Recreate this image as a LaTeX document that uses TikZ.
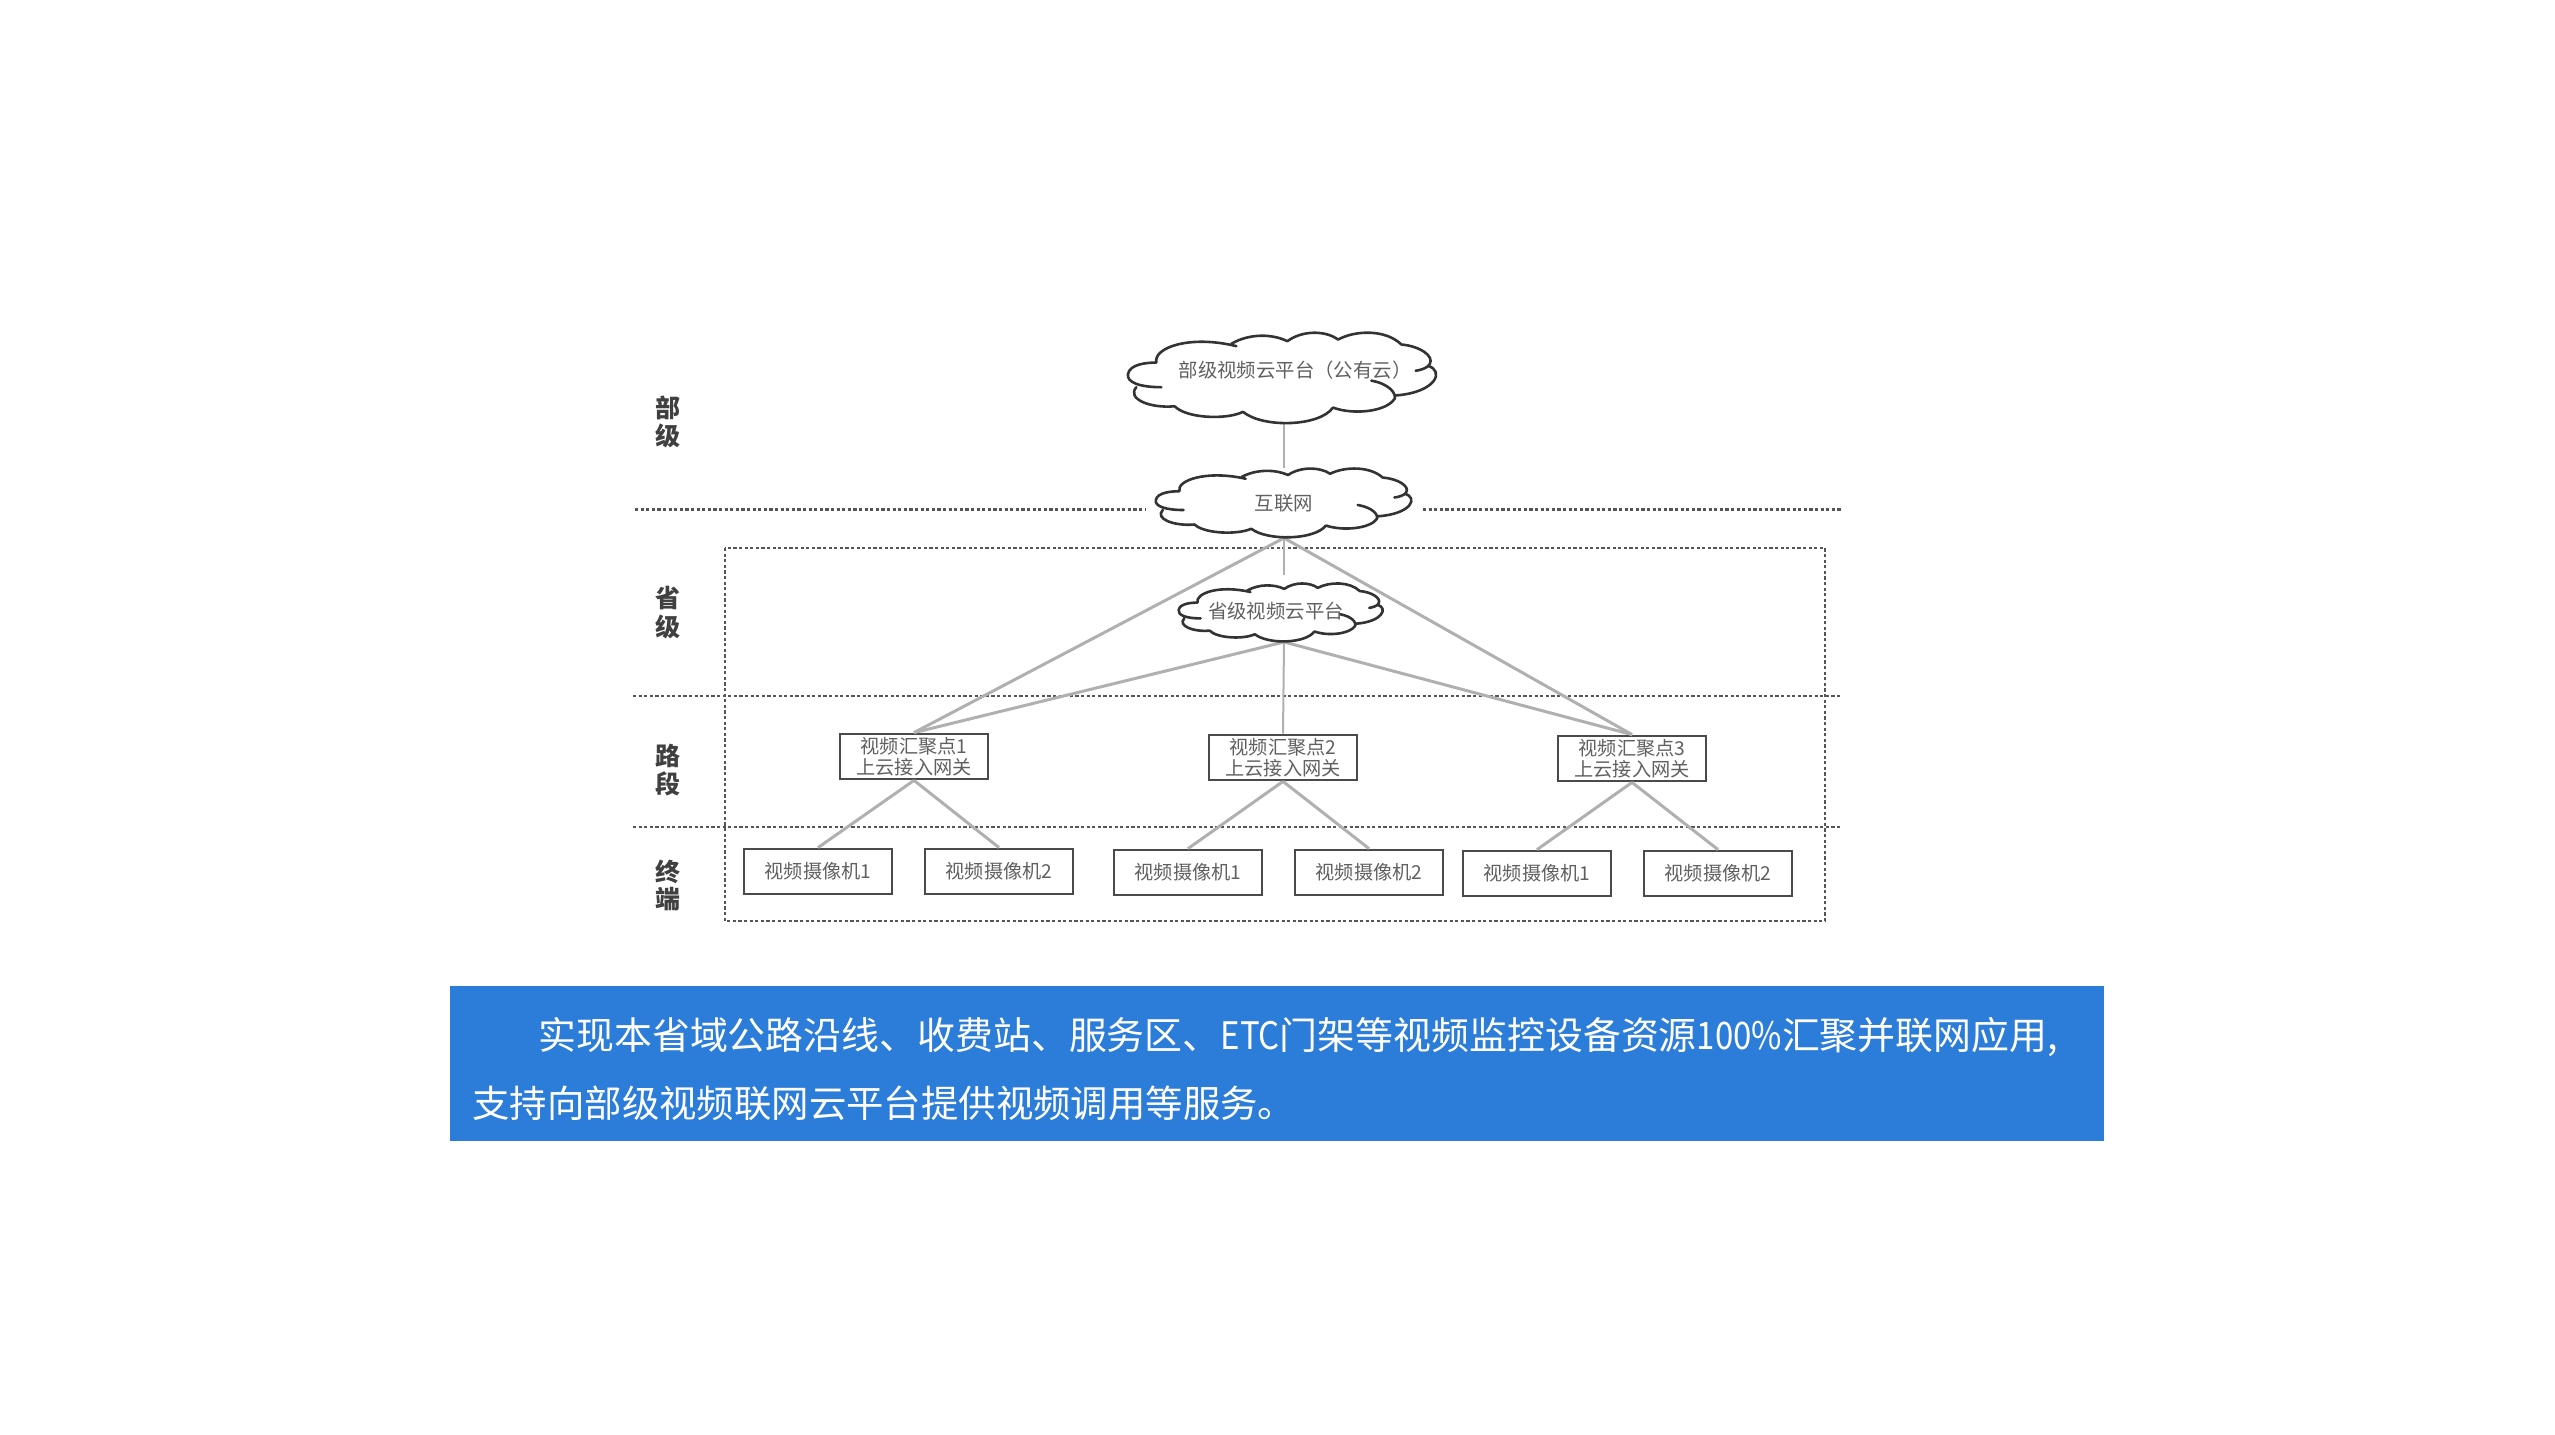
\documentclass[tikz,border=0pt]{standalone}
\usepackage{fontspec}
\usepackage{graphicx}
\setmainfont{Noto Sans CJK SC}
\definecolor{bannerblue}{HTML}{2B7DD9}
\definecolor{inkgrey}{HTML}{606060}
\definecolor{boxgrey}{HTML}{4A4A4A}
\definecolor{wiregrey}{HTML}{B0B0B0}
\definecolor{cloudink}{HTML}{333333}
\definecolor{dashgrey}{HTML}{555555}
\tikzset{
  boxnode/.style={draw=boxgrey,line width=1.4pt,fill=white,inner sep=0pt,minimum width=74pt,minimum height=22.5pt,text=inkgrey,font=\fontsize{9.6pt}{10.3pt}\selectfont,align=center},
  cloudanchor/.style={inner sep=0pt,outer sep=0pt},
  cloudtext/.style={text=inkgrey,inner sep=0pt,font=\fontsize{9.7pt}{11pt}\selectfont},
  wire/.style={draw=wiregrey,line width=1.5pt},
  thinwire/.style={draw=wiregrey,line width=1pt},
  dashline/.style={draw=dashgrey,line width=1.2pt,dash pattern=on 1.6pt off 1.2pt},
  levellabel/.style={text=black!75,inner sep=0pt,font=\fontsize{12.5pt}{14pt}\selectfont\bfseries},
  bannertext/.style={text=white,inner sep=0pt,anchor=west,font=\fontsize{18.7pt}{22pt}\selectfont}
}
\newcommand{\latinpart}[1]{\scalebox{0.87}[1]{#1}}
% #1 x-left, #2 y-top, #3 width, #4 height
\newcommand{\cloudshape}[4]{%
  \begin{scope}[shift={(#1,#2)},xscale=#3/933,yscale=#4/280]
  \begin{scope}[shift={(-22,-32)}]
    \draw[cloudink,line width=1.3pt,line join=round,line cap=round]
      (110,125) .. controls (100,80) and (210,40) .. (350,75)
      (335,68) .. controls (390,35) and (460,38) .. (503,60)
      (503,60) .. controls (550,25) and (620,28) .. (655,55)
      (655,55) .. controls (710,25) and (800,25) .. (845,70)
      (845,70) .. controls (900,75) and (945,105) .. (930,130)
      (888,150) .. controls (905,148) and (925,140) .. (930,130)
      (925,135) .. controls (975,150) and (950,215) .. (830,225)
      (755,180) .. controls (810,190) and (830,220) .. (825,235) .. controls (800,275) and (700,285) .. (640,262)
      (640,262) .. controls (600,320) and (430,325) .. (370,275)
      (370,275) .. controls (320,300) and (200,295) .. (165,258)
      (165,258) .. controls (90,265) and (20,235) .. (50,200)
      (125,200) .. controls (60,200) and (20,185) .. (25,160) .. controls (30,130) and (80,125) .. (110,125);
  \end{scope}
  \end{scope}}
\begin{document}
\begin{tikzpicture}[x=0.5pt,y=-0.5pt]
\useasboundingbox (0,0) rectangle (2555,1435);
% banner
\node[fill=bannerblue,minimum width=827pt,minimum height=77.5pt,inner sep=0pt,outer sep=0pt] (banner) at (1277,1063.5) {};
\node[bannertext,font=\fontsize{18.95pt}{22pt}\selectfont] (bannerA) at (538,1037) {实现本省域公路沿线、收费站、服务区、\latinpart{ETC}门架等视频监控设备资源\latinpart{100\%}汇聚并联网应用,};
\node[bannertext] (bannerB) at (472,1103) {支持向部级视频联网云平台提供视频调用等服务。};
% dashed frame and level lines
\draw[dashline] (725,548) rectangle (1825,921);
\draw[dashline] (635,509.5) -- (1145,509.5);
\draw[dashline] (1423,509.5) -- (1842,509.5);
\draw[dashline] (633,696) -- (1842,696);
\draw[dashline] (633,827) -- (1842,827);
% level labels
\node[levellabel] (l1) at (668,408) {部};
\node[levellabel] (l2) at (668,436) {级};
\node[levellabel] (l3) at (668,598) {省};
\node[levellabel] (l4) at (668,627) {级};
\node[levellabel] (l5) at (668,756) {路};
\node[levellabel] (l6) at (668,784) {段};
\node[levellabel] (l7) at (668,872) {终};
\node[levellabel] (l8) at (668,899) {端};
% cloud anchors
\node[cloudanchor,minimum width=155.5pt,minimum height=46pt] (ctop) at (1284,378) {};
\node[cloudanchor,minimum width=129pt,minimum height=35pt] (cnet) at (1284,503) {};
\node[cloudanchor,minimum width=103pt,minimum height=29.5pt] (cprov) at (1284,612.5) {};
\coordinate (provtop) at (1284,575);
% gateway and camera nodes
\node[boxnode] (g1) at (914,756.5) {视频汇聚点1\\上云接入网关};
\node[boxnode] (g2) at (1283,757.5) {视频汇聚点2\\上云接入网关};
\node[boxnode] (g3) at (1632,758.5) {视频汇聚点3\\上云接入网关};
\node[boxnode] (a1) at (818,871.5) {视频摄像机1};
\node[boxnode] (a2) at (999,871.5) {视频摄像机2};
\node[boxnode] (b1) at (1188,872.5) {视频摄像机1};
\node[boxnode] (b2) at (1369,872.5) {视频摄像机2};
\node[boxnode] (c1) at (1537,873.5) {视频摄像机1};
\node[boxnode] (c2) at (1718,873.5) {视频摄像机2};
% connectors
\draw[thinwire] (ctop.south) -- (cnet.north);
\draw[wire] (cnet.south) -- (g1.north);
\draw[wire] (cnet.south) -- (g3.north);
\draw[thinwire] (cnet.south) -- (provtop);
\draw[wire] (cprov.south) -- (g1.north);
\draw[thinwire] (cprov.south) -- (g2.north);
\draw[wire] (cprov.south) -- (g3.north);
\draw[wire] (g1.south) -- (a1.north);
\draw[wire] (g1.south) -- (a2.north);
\draw[wire] (g2.south) -- (b1.north);
\draw[wire] (g2.south) -- (b2.north);
\draw[wire] (g3.south) -- (c1.north);
\draw[wire] (g3.south) -- (c2.north);
% clouds
\cloudshape{1127}{332}{311}{92}
\cloudshape{1155}{468}{258}{70}
\cloudshape{1178}{583}{206}{59}
\node[cloudtext] (ttop) at (1295,370) {部级视频云平台（公有云）};
\node[cloudtext] (tnet) at (1284,503) {互联网};
\node[cloudtext] (tprov) at (1276,611) {省级视频云平台};
\end{tikzpicture}
\end{document}
